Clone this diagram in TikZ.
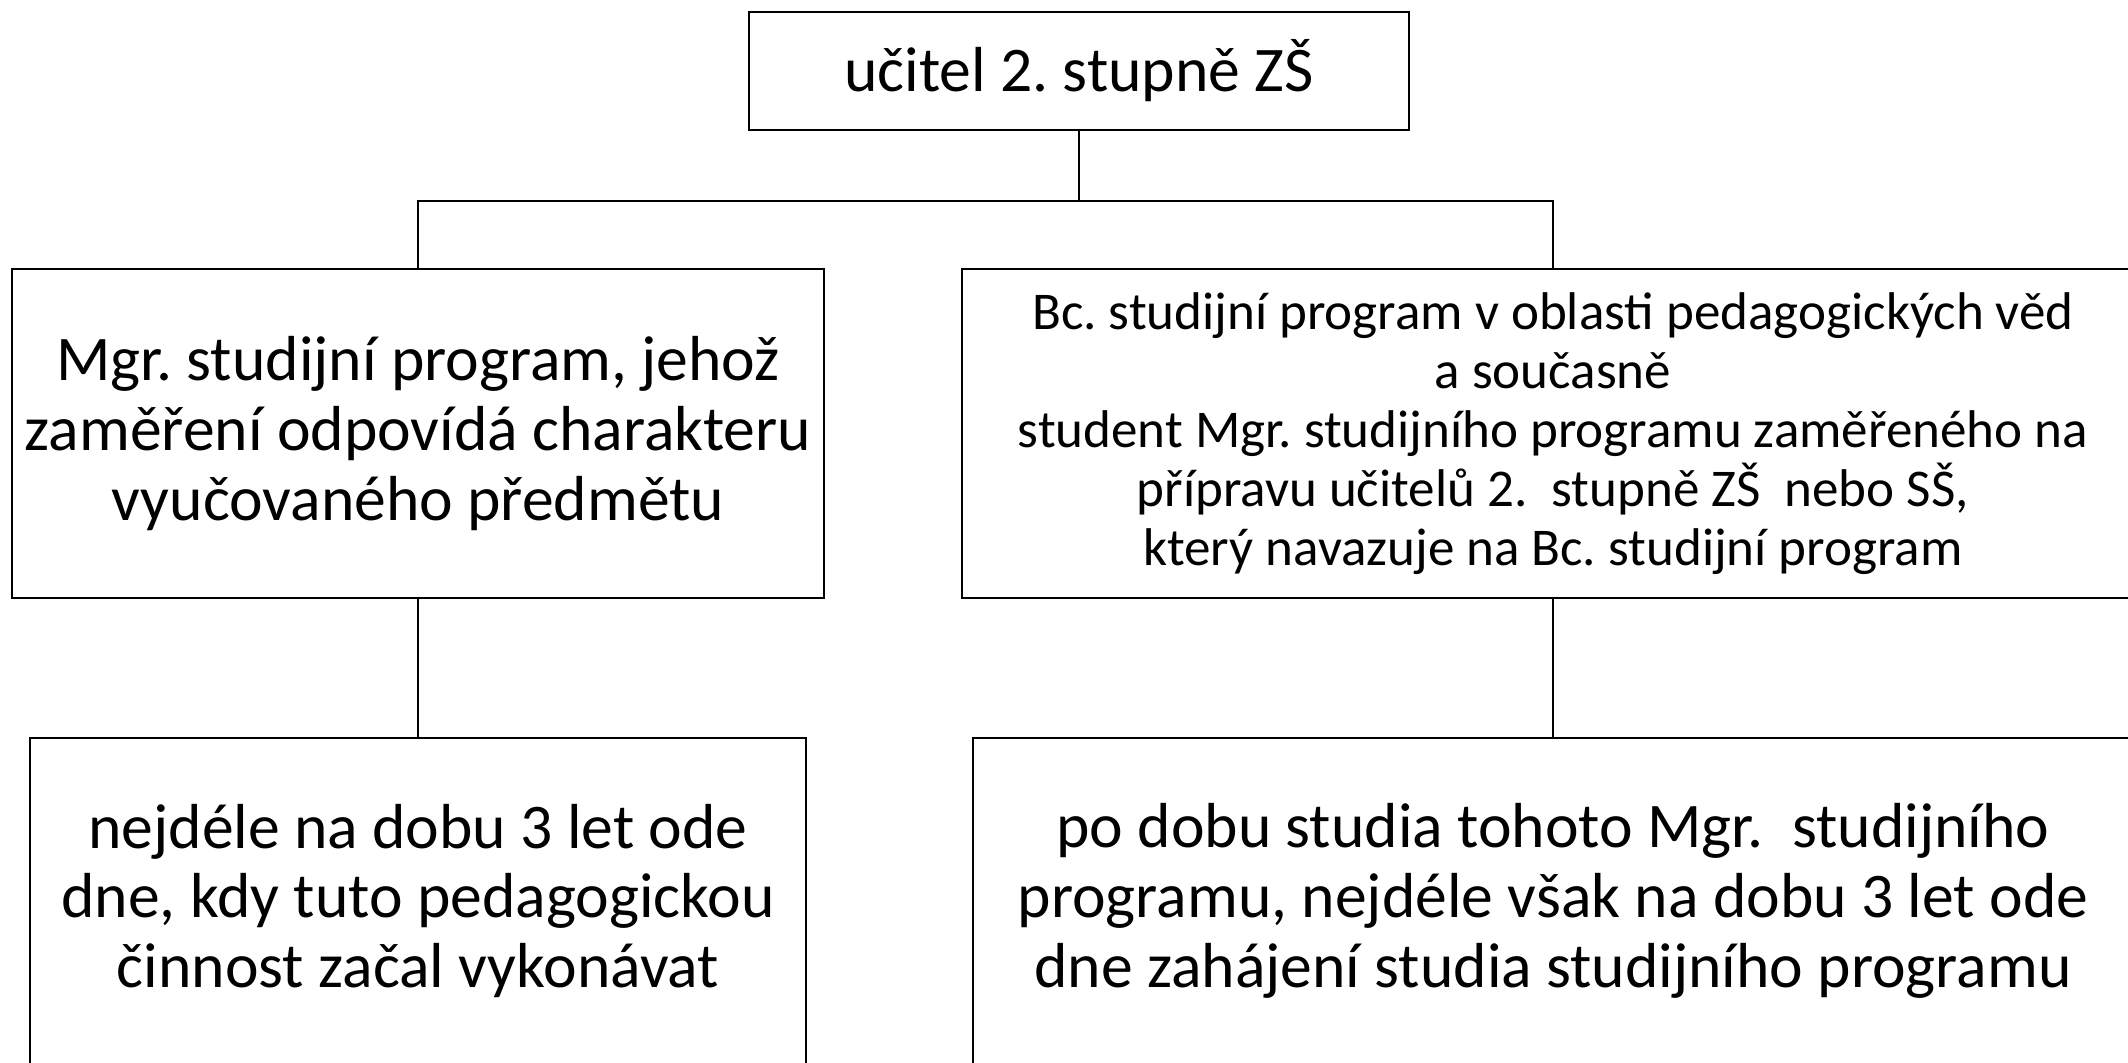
\documentclass[tikz,border=0pt]{standalone}
\usepackage{fontspec}
\setmainfont{Carlito}
\frenchspacing
\usetikzlibrary{positioning}
\tikzset{
  box/.style={draw, line width=0.6pt, align=center, inner sep=2pt},
  bigtext/.style={font=\fontsize{18.1}{19.9}\selectfont},
  smalltext/.style={font=\fontsize{15.1}{16.8}\selectfont},
  link/.style={line width=0.6pt}
}
\begin{document}
\begin{tikzpicture}
      \useasboundingbox (0,0) rectangle (21.28,-10.62);
      \clip (0,0) rectangle (21.28,-10.62);
      \node[box, bigtext, minimum width=6.60cm, minimum height=1.18cm]
        (ucitel) at (10.79,-0.71) {učitel 2. stupně ZŠ};
      \node[box, bigtext, minimum width=8.12cm, minimum height=3.29cm]
        (mgr) at (4.18,-4.335) {Mgr. studijní program, jehož\\zaměření odpovídá charakteru\\vyučovaného předmětu};
      \node[box, smalltext, minimum width=11.82cm, minimum height=3.29cm]
        (bc) at (15.53,-4.335) {Bc. studijní program v oblasti pedagogických věd\\a současně\\student Mgr. studijního programu zaměřeného na\\přípravu učitelů 2.\ \ stupně ZŠ\ \ nebo SŠ,\\který navazuje na Bc. studijní program};
      \node[box, bigtext, minimum width=7.76cm, minimum height=3.26cm]
        (mgrdoba) at (4.18,-9.01) {nejdéle na dobu 3 let ode\\dne, kdy tuto pedagogickou\\činnost začal vykonávat};
      \node[box, bigtext, minimum width=11.60cm, minimum height=3.26cm]
        (bcdoba) at (15.53,-9.01) {po dobu studia tohoto Mgr.\ \ studijního\\programu, nejdéle však na dobu 3 let ode\\dne zahájení studia studijního programu};
      \begin{scope}[link]
        \draw (ucitel.south) -- ++(0,-0.70) coordinate (bar);
        \draw (bar) -| (mgr.north);
        \draw (bar) -| (bc.north);
        \draw (mgr.south) to (mgrdoba.north);
        \draw (bc.south) to (bcdoba.north);
      \end{scope}
    \end{tikzpicture}
\end{document}
